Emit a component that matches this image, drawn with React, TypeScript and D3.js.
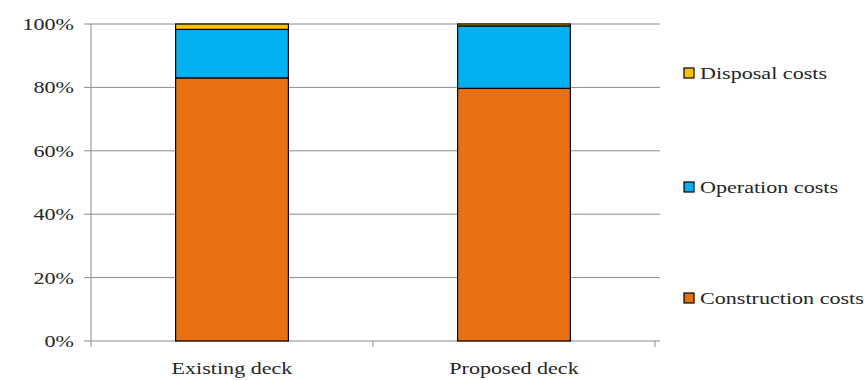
import React from "react";
import * as d3 from "d3";

const categories = ["Existing deck", "Proposed deck"];
const seriesNames = ["Construction costs", "Operation costs", "Disposal costs"];
const construction = [83.0, 79.7];
const operation = [15.3, 19.7];
const disposal = [1.7, 0.6];
const yTicks = [0, 20, 40, 60, 80, 100];
const colors = ["#E8700F", "#00B0F0", "#FFC000"];

const W = 867;
const H = 380;
const left = 91;
const right = 655;
const top = 24;
const bottom = 341;
const SX = 1.3;

function T({ x, y, anchor, children }: { x: number; y: number; anchor?: string; children: React.ReactNode }) {
  return (
    <text
      transform={`translate(${x},${y}) scale(${SX},1)`}
      textAnchor={anchor || "start"}
      dy="0.35em"
      style={{ fontFamily: "Liberation Serif, DejaVu Serif, serif", fontSize: 17 }}
      fill="#262626"
    >
      {children}
    </text>
  );
}

export default function App() {
  const x = d3.scaleBand<string>().domain(categories).range([left, right]).paddingInner(0.6).paddingOuter(0.3);
  const y = d3.scaleLinear().domain([0, 100]).range([bottom, top]);
  const rows = categories.map((c, i) => ({
    cat: c,
    "Construction costs": construction[i],
    "Operation costs": operation[i],
    "Disposal costs": disposal[i],
  }));
  const stack = d3.stack<any>().keys(seriesNames)(rows);
  const legendY = [298, 187, 73];
  return (
    <svg width={W} height={H} style={{ position: "absolute", left: 0, top: 0, background: "#fff" }}>
      {yTicks.map((t) => (
        <g key={t}>
          <line x1={left - 7} x2={660} y1={y(t)} y2={y(t)} stroke="#8c8c8c" strokeWidth={1} />
          <T x={74} y={y(t)} anchor="end">{t}%</T>
        </g>
      ))}
      <line x1={left} x2={left} y1={top} y2={bottom} stroke="#8c8c8c" />
      {[left, (left + right) / 2, right].map((tx, i) => (
        <line key={i} x1={tx} x2={tx} y1={bottom} y2={bottom + 6} stroke="#8c8c8c" />
      ))}
      {stack.map((s, si) =>
        s.map((d, i) => (
          <rect
            key={si + "-" + i}
            x={x(categories[i])!}
            width={x.bandwidth()}
            y={y(d[1])}
            height={y(d[0]) - y(d[1])}
            fill={colors[si]}
            stroke="#000"
            strokeWidth={1.2}
          />
        ))
      )}
      {categories.map((c) => (
        <T key={c} x={x(c)! + x.bandwidth() / 2} y={368} anchor="middle">{c}</T>
      ))}
      {seriesNames.map((n, i) => (
        <g key={n}>
          <rect x={684} y={legendY[i] - 5} width={10} height={10} fill={colors[i]} stroke="#000" strokeWidth={1.2} />
          <T x={700} y={legendY[i]}>{n}</T>
        </g>
      ))}
    </svg>
  );
}
